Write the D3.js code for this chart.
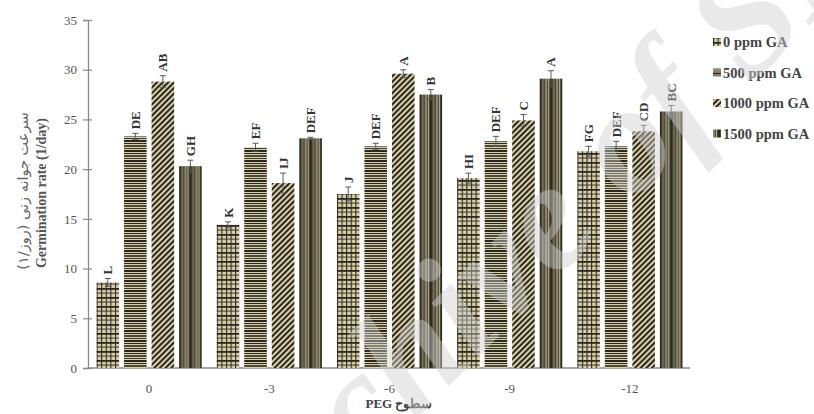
<!DOCTYPE html>
<html>
<head>
<meta charset="utf-8">
<script src="https://cdn.jsdelivr.net/npm/d3@7/dist/d3.min.js"></script>
<style>
  html, body { margin: 0; padding: 0; background: #fff; }
  svg { display: block; }
</style>
</head>
<body>
<svg id="chart" width="814" height="414"></svg>
<script>
// PEG levels (x groups) and GA treatments (series)
const categories = ["0", "-3", "-6", "-9", "-12"];
const seriesNames = ["0 ppm GA", "500 ppm GA", "1000 ppm GA", "1500 ppm GA"];

// Germination rate (1/day) per PEG level, one array per GA treatment
const ga0    = [8.6, 14.4, 17.5, 19.1, 21.8];
const ga500  = [23.3, 22.2, 22.3, 22.8, 22.3];
const ga1000 = [28.8, 18.6, 29.6, 24.9, 23.8];
const ga1500 = [20.3, 23.1, 27.5, 29.1, 25.8];

// Standard errors
const err0    = [0.4, 0.3, 0.7, 0.5, 0.5];
const err500  = [0.3, 0.4, 0.3, 0.5, 0.5];
const err1000 = [0.6, 1.0, 0.4, 0.6, 0.6];
const err1500 = [0.6, 0.1, 0.5, 0.8, 0.6];

// Mean-comparison letters
const let0    = ["L", "K", "J", "HI", "FG"];
const let500  = ["DE", "EF", "DEF", "DEF", "DEF"];
const let1000 = ["AB", "IJ", "A", "C", "CD"];
const let1500 = ["GH", "DEF", "B", "A", "BC"];

const yTicks = [0, 5, 10, 15, 20, 25, 30, 35];

const values = [ga0, ga500, ga1000, ga1500];
const errors = [err0, err500, err1000, err1500];
const letters = [let0, let500, let1000, let1500];

const rows = [];
categories.forEach((c, ci) => {
  seriesNames.forEach((s, si) => {
    rows.push({ cat: c, series: si, value: values[si][ci], err: errors[si][ci], letter: letters[si][ci] });
  });
});

const svg = d3.select("#chart");
const serif = "'Liberation Serif', 'Times New Roman', 'DejaVu Serif', serif";
const LIGHT = "#d8d0a6", DARK = "#2a2820";

// ---- fill patterns ----
const defs = svg.append("defs");

// grid / plaid
const p0 = defs.append("pattern").attr("id", "pat0").attr("patternUnits", "userSpaceOnUse")
  .attr("width", 4.6).attr("height", 9);
p0.append("rect").attr("width", 4.6).attr("height", 9).attr("fill", LIGHT);
p0.append("rect").attr("x", 0).attr("width", 1.1).attr("height", 9).attr("fill", DARK);
p0.append("rect").attr("y", 0).attr("width", 4.6).attr("height", 1.8).attr("fill", DARK);
p0.append("rect").attr("y", 4.6).attr("width", 4.6).attr("height", 0.9).attr("fill", DARK);

// horizontal stripes
const p1 = defs.append("pattern").attr("id", "pat1").attr("patternUnits", "userSpaceOnUse")
  .attr("width", 10).attr("height", 10);
p1.append("rect").attr("width", 10).attr("height", 10).attr("fill", LIGHT);
[[0, 2], [3, 1], [5.2, 1.6], [8, 0.9]].forEach(([y, h]) =>
  p1.append("rect").attr("y", y).attr("width", 10).attr("height", h).attr("fill", DARK));

// diagonal stripes
const p2 = defs.append("pattern").attr("id", "pat2").attr("patternUnits", "userSpaceOnUse")
  .attr("width", 4).attr("height", 4).attr("patternTransform", "rotate(45)");
p2.append("rect").attr("width", 4).attr("height", 4).attr("fill", LIGHT);
p2.append("rect").attr("width", 2).attr("height", 4).attr("fill", DARK);

// vertical stripes
const p3 = defs.append("pattern").attr("id", "pat3").attr("patternUnits", "userSpaceOnUse")
  .attr("width", 11).attr("height", 10);
p3.append("rect").attr("width", 11).attr("height", 10).attr("fill", "#4d4937");
[[0, 2, "#8d8769"], [3, 1, "#b3ac8b"], [5, 2, "#2c2a21"], [8, 1.5, "#77725a"]].forEach(([x, w, c]) =>
  p3.append("rect").attr("x", x).attr("width", w).attr("height", 10).attr("fill", c));

const fills = ["url(#pat0)", "url(#pat1)", "url(#pat2)", "url(#pat3)"];

// ---- scales ----
const y = d3.scaleLinear().domain([0, 35]).range([368, 20]);
const x0 = d3.scaleBand().domain(categories).range([89, 690]).paddingInner(0.125).paddingOuter(0.0625);
const x1 = d3.scaleBand().domain(d3.range(seriesNames.length)).range([0, x0.bandwidth()]).paddingInner(0.18);

// ---- axes ----
const yAxis = svg.append("g").attr("transform", "translate(88,0)")
  .call(d3.axisLeft(y).tickValues(yTicks).tickSize(5).tickPadding(6));
yAxis.select(".domain").attr("stroke", "#8a8a8a").attr("stroke-width", 1.3);
yAxis.selectAll(".tick line").attr("x1", 4).attr("stroke", "#8a8a8a").attr("stroke-width", 1.2);
yAxis.selectAll(".tick text").attr("font-family", serif).attr("font-size", 13).attr("fill", "#555");

const xAxis = svg.append("g").attr("transform", "translate(0,368)")
  .call(d3.axisBottom(x0).tickSize(0).tickPadding(16));
xAxis.select(".domain").attr("stroke", "#8a8a8a").attr("stroke-width", 1.3).attr("d", "M88,0H690");
xAxis.selectAll(".tick text").attr("font-family", serif).attr("font-size", 13).attr("fill", "#555");

// ---- bars ----
const groups = svg.append("g").selectAll("g").data(categories).join("g")
  .attr("transform", d => `translate(${x0(d)},0)`);

const bars = groups.selectAll("g.bar").data(c => rows.filter(r => r.cat === c)).join("g").attr("class", "bar");

bars.append("rect")
  .attr("x", d => x1(d.series))
  .attr("width", x1.bandwidth())
  .attr("y", d => y(d.value))
  .attr("height", d => y(0) - y(d.value))
  .attr("fill", d => fills[d.series]);

// error bars
const eb = bars.append("g").attr("stroke", "#5a5a5a").attr("stroke-width", 1);
eb.append("line")
  .attr("x1", d => x1(d.series) + x1.bandwidth() / 2).attr("x2", d => x1(d.series) + x1.bandwidth() / 2)
  .attr("y1", d => y(d.value - d.err)).attr("y2", d => y(d.value + d.err));
eb.append("line")
  .attr("x1", d => x1(d.series) + x1.bandwidth() / 2 - 3).attr("x2", d => x1(d.series) + x1.bandwidth() / 2 + 3)
  .attr("y1", d => y(d.value + d.err)).attr("y2", d => y(d.value + d.err));
eb.append("line")
  .attr("x1", d => x1(d.series) + x1.bandwidth() / 2 - 3).attr("x2", d => x1(d.series) + x1.bandwidth() / 2 + 3)
  .attr("y1", d => y(d.value - d.err)).attr("y2", d => y(d.value - d.err));

// letters
bars.append("text")
  .attr("transform", d => `translate(${x1(d.series) + x1.bandwidth() / 2 + 4.5},${y(d.value + d.err) - 4}) rotate(-90)`)
  .attr("font-family", serif).attr("font-size", 13).attr("font-weight", "bold").attr("fill", "#333")
  .text(d => d.letter);

// ---- axis titles ----
svg.append("text")
  .attr("transform", "translate(28,191) rotate(-90)")
  .attr("text-anchor", "middle")
  .attr("font-family", "'DejaVu Sans', 'Noto Sans', sans-serif").attr("font-size", 14.5)
  .attr("fill", "#666")
  .text("سرعت جوانه زنی (روز/۱)");
svg.append("text")
  .attr("transform", "translate(46,193) rotate(-90)")
  .attr("text-anchor", "middle")
  .attr("font-family", serif).attr("font-size", 14).attr("font-weight", "bold").attr("fill", "#555")
  .text("Germination rate (1/day)");

svg.append("text")
  .attr("x", 399).attr("y", 408).attr("text-anchor", "middle")
  .attr("font-family", serif).attr("font-size", 13).attr("font-weight", "bold").attr("fill", "#444")
  .text("PEG سطوح");

// ---- legend ----
const legend = svg.append("g").selectAll("g").data(seriesNames).join("g")
  .attr("transform", (d, i) => `translate(713,${42 + i * 30.5})`);
legend.append("rect").attr("x", 0).attr("y", -4).attr("width", 8).attr("height", 8)
  .attr("fill", (d, i) => fills[i]);
legend.append("text").attr("x", 10).attr("y", 5)
  .attr("font-family", serif).attr("font-size", 14.5).attr("font-weight", "bold").attr("fill", "#444")
  .text(d => d);

// ---- site watermark (faint, runs off the page edge) ----
svg.append("text")
  .attr("transform", "translate(250,585) rotate(-45)")
  .attr("font-family", serif).attr("font-style", "italic").attr("font-weight", "bold")
  .attr("font-size", 155).attr("fill", "#cfcfcf").attr("fill-opacity", 0.45)
  .text("Archive of SID");
</script>
</body>
</html>
